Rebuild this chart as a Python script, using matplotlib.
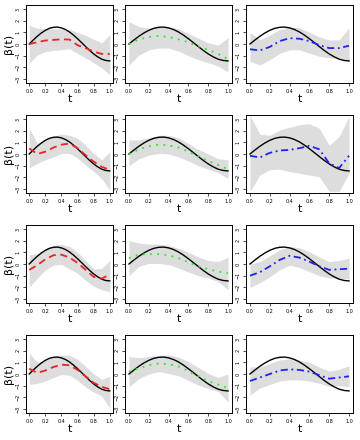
import matplotlib
matplotlib.use('Agg')
import matplotlib.pyplot as plt

# grid of t values
t_true = [0.0, 0.05, 0.1, 0.15, 0.2, 0.25, 0.3, 0.35, 0.4, 0.45, 0.5,
          0.55, 0.6, 0.65, 0.7, 0.75, 0.8, 0.85, 0.9, 0.95, 1.0]
beta_true = [0.0, 0.34, 0.66, 0.94, 1.17, 1.34, 1.43, 1.45, 1.38, 1.24, 1.03,
             0.76, 0.45, 0.12, -0.22, -0.55, -0.85, -1.10, -1.30, -1.41, -1.45]

t_est = [0.0, 0.1, 0.2, 0.3, 0.4, 0.5, 0.6, 0.7, 0.8, 0.9, 1.0]

# row 1
est_11 = [0.0, 0.15, 0.3, 0.35, 0.4, 0.38, -0.1, -0.35, -0.65, -0.85, -0.85]
hi_11 = [1.6, 1.35, 1.3, 1.3, 1.3, 1.25, 1.0, 0.75, 0.4, 0.1, 0.8]
lo_11 = [-1.65, -0.95, -0.65, -0.55, -0.5, -0.4, -0.8, -1.2, -1.6, -2.05, -2.65]

est_12 = [0.0, 0.4, 0.6, 0.7, 0.6, 0.4, 0.15, -0.2, -0.5, -0.85, -1.3]
hi_12 = [1.9, 1.5, 1.35, 1.45, 1.45, 1.3, 0.9, 0.5, 0.1, -0.1, 0.55]
lo_12 = [-1.8, -0.95, -0.5, -0.35, -0.35, -0.6, -1.0, -1.35, -1.6, -1.9, -2.4]

est_13 = [-0.45, -0.55, -0.25, 0.25, 0.5, 0.45, 0.25, -0.1, -0.35, -0.35, -0.15]
hi_13 = [1.0, 0.35, 0.75, 1.25, 1.45, 1.4, 1.0, 0.6, 0.35, 0.35, 1.4]
lo_13 = [-1.5, -1.8, -1.35, -0.8, -0.5, -0.5, -0.8, -1.05, -1.2, -1.2, -1.5]

# row 2
est_21 = [0.48, 0.0, 0.2, 0.55, 0.8, 0.9, 0.5, -0.1, -0.65, -1.1, -1.35]
hi_21 = [2.2, 0.9, 1.15, 1.5, 1.7, 1.6, 1.35, 0.75, 0.05, -0.5, 0.2]
lo_21 = [-1.2, -0.8, -0.5, -0.25, 0.05, 0.05, -0.35, -0.95, -1.5, -2.1, -3.1]

est_22 = [0.0, 0.4, 0.65, 0.8, 0.75, 0.55, 0.2, -0.2, -0.6, -0.95, -1.3]
hi_22 = [1.2, 1.2, 1.4, 1.6, 1.6, 1.4, 0.9, 0.4, 0.0, -0.4, -0.5]
lo_22 = [-1.0, -0.4, -0.1, 0.05, 0.0, -0.25, -0.6, -1.0, -1.3, -1.6, -2.1]

est_23 = [-0.15, -0.3, 0.1, 0.3, 0.35, 0.5, 0.7, 0.4, -0.8, -1.2, -0.15]
hi_23 = [3.3, 1.7, 1.6, 2.05, 2.3, 2.5, 2.6, 2.2, 0.75, 1.5, 3.2]
lo_23 = [-3.2, -1.8, -1.35, -1.3, -1.5, -1.65, -1.8, -1.95, -3.2, -3.2, -1.65]

# row 3
est_31 = [-0.5, -0.1, 0.4, 0.75, 0.8, 0.55, 0.1, -0.5, -1.1, -1.25, -0.9]
hi_31 = [0.8, 0.9, 1.3, 1.6, 1.7, 1.5, 1.0, 0.3, -0.4, -0.4, 0.3]
lo_31 = [-2.0, -1.2, -0.5, -0.1, -0.05, -0.4, -0.8, -1.4, -1.9, -2.2, -2.4]

est_32 = [0.5, 0.8, 0.85, 0.85, 0.75, 0.5, 0.15, -0.2, -0.45, -0.65, -0.8]
hi_32 = [2.0, 1.8, 1.7, 1.7, 1.6, 1.35, 1.0, 0.6, 0.3, 0.2, 0.6]
lo_32 = [-1.0, -0.2, 0.05, 0.05, -0.05, -0.35, -0.7, -1.0, -1.2, -1.5, -2.2]

est_33 = [-1.0, -0.7, -0.2, 0.35, 0.7, 0.55, 0.2, -0.2, -0.5, -0.45, -0.4]
hi_33 = [0.0, 0.2, 0.7, 1.2, 1.5, 1.4, 1.05, 0.6, 0.2, 0.3, 0.5]
lo_33 = [-2.0, -1.6, -1.1, -0.5, -0.1, -0.3, -0.65, -1.0, -1.2, -1.2, -1.3]

# row 4
est_41 = [0.45, 0.1, 0.3, 0.6, 0.8, 0.75, 0.35, -0.2, -0.75, -1.1, -1.3]
hi_41 = [1.8, 1.0, 1.2, 1.5, 1.65, 1.6, 1.25, 0.65, 0.0, -0.45, -0.2]
lo_41 = [-0.9, -0.8, -0.6, -0.3, -0.05, -0.1, -0.55, -1.1, -1.55, -1.9, -2.9]

est_42 = [0.2, 0.5, 0.75, 0.9, 0.85, 0.65, 0.25, -0.2, -0.6, -0.9, -1.2]
hi_42 = [1.5, 1.4, 1.5, 1.6, 1.65, 1.45, 1.05, 0.55, 0.05, -0.3, 0.0]
lo_42 = [-1.1, -0.4, 0.0, 0.2, 0.05, -0.15, -0.55, -0.95, -1.25, -1.5, -2.4]

est_43 = [-0.6, -0.3, 0.0, 0.3, 0.4, 0.35, 0.2, -0.1, -0.4, -0.3, -0.2]
hi_43 = [0.6, 0.6, 0.9, 1.2, 1.3, 1.2, 1.0, 0.6, 0.25, 0.4, 0.7]
lo_43 = [-1.8, -1.2, -0.9, -0.6, -0.5, -0.5, -0.6, -0.8, -1.05, -1.0, -1.1]

panels = [
    [(est_11, lo_11, hi_11), (est_12, lo_12, hi_12), (est_13, lo_13, hi_13)],
    [(est_21, lo_21, hi_21), (est_22, lo_22, hi_22), (est_23, lo_23, hi_23)],
    [(est_31, lo_31, hi_31), (est_32, lo_32, hi_32), (est_33, lo_33, hi_33)],
    [(est_41, lo_41, hi_41), (est_42, lo_42, hi_42), (est_43, lo_43, hi_43)],
]

col_styles = [
    dict(color='#EE2222', linestyle=(0, (4, 2.5)), linewidth=1.3),
    dict(color='#22EE22', linestyle=(0, (1, 3)), linewidth=1.3),
    dict(color='#2222EE', linestyle=(0, (4, 2, 1, 2)), linewidth=1.3),
]

W, H = 360, 440
col_x = [(26, 113), (125, 232), (246, 353)]

fig = plt.figure(figsize=(W / 100, H / 100), dpi=100)

for r in range(4):
    top = 5 + 110 * r
    bottom = 83 + 110 * r
    for c in range(3):
        x0, x1 = col_x[c]
        ax = fig.add_axes([x0 / W, 1 - bottom / H, (x1 - x0) / W, (bottom - top) / H])
        est, lo, hi = panels[r][c]
        ax.fill_between(t_est, lo, hi, color='#DDDDDD', linewidth=0)
        ax.plot(t_true, beta_true, color='black', linewidth=1.0)
        ax.plot(t_est, est, **col_styles[c])
        ax.set_xlim(-0.04, 1.04)
        ax.set_ylim(-3.34, 3.34)
        ax.set_xticks([0.0, 0.2, 0.4, 0.6, 0.8, 1.0])
        ax.set_xticklabels(['0.0', '0.2', '0.4', '0.6', '0.8', '1.0'])
        ax.set_yticks([-3, -2, -1, 0, 1, 2, 3])
        ax.tick_params(direction='out', length=2.5, width=0.5, labelsize=3.5, pad=1.5)
        for lab in ax.get_yticklabels():
            lab.set_rotation(90)
            lab.set_va('center')
        for s in ax.spines.values():
            s.set_linewidth(0.7)
        ax.set_xlabel('t', fontsize=8, labelpad=0)
        if c == 0:
            ax.set_ylabel('β(t)', fontsize=8, labelpad=1)

fig.savefig('out.png', dpi=100)
